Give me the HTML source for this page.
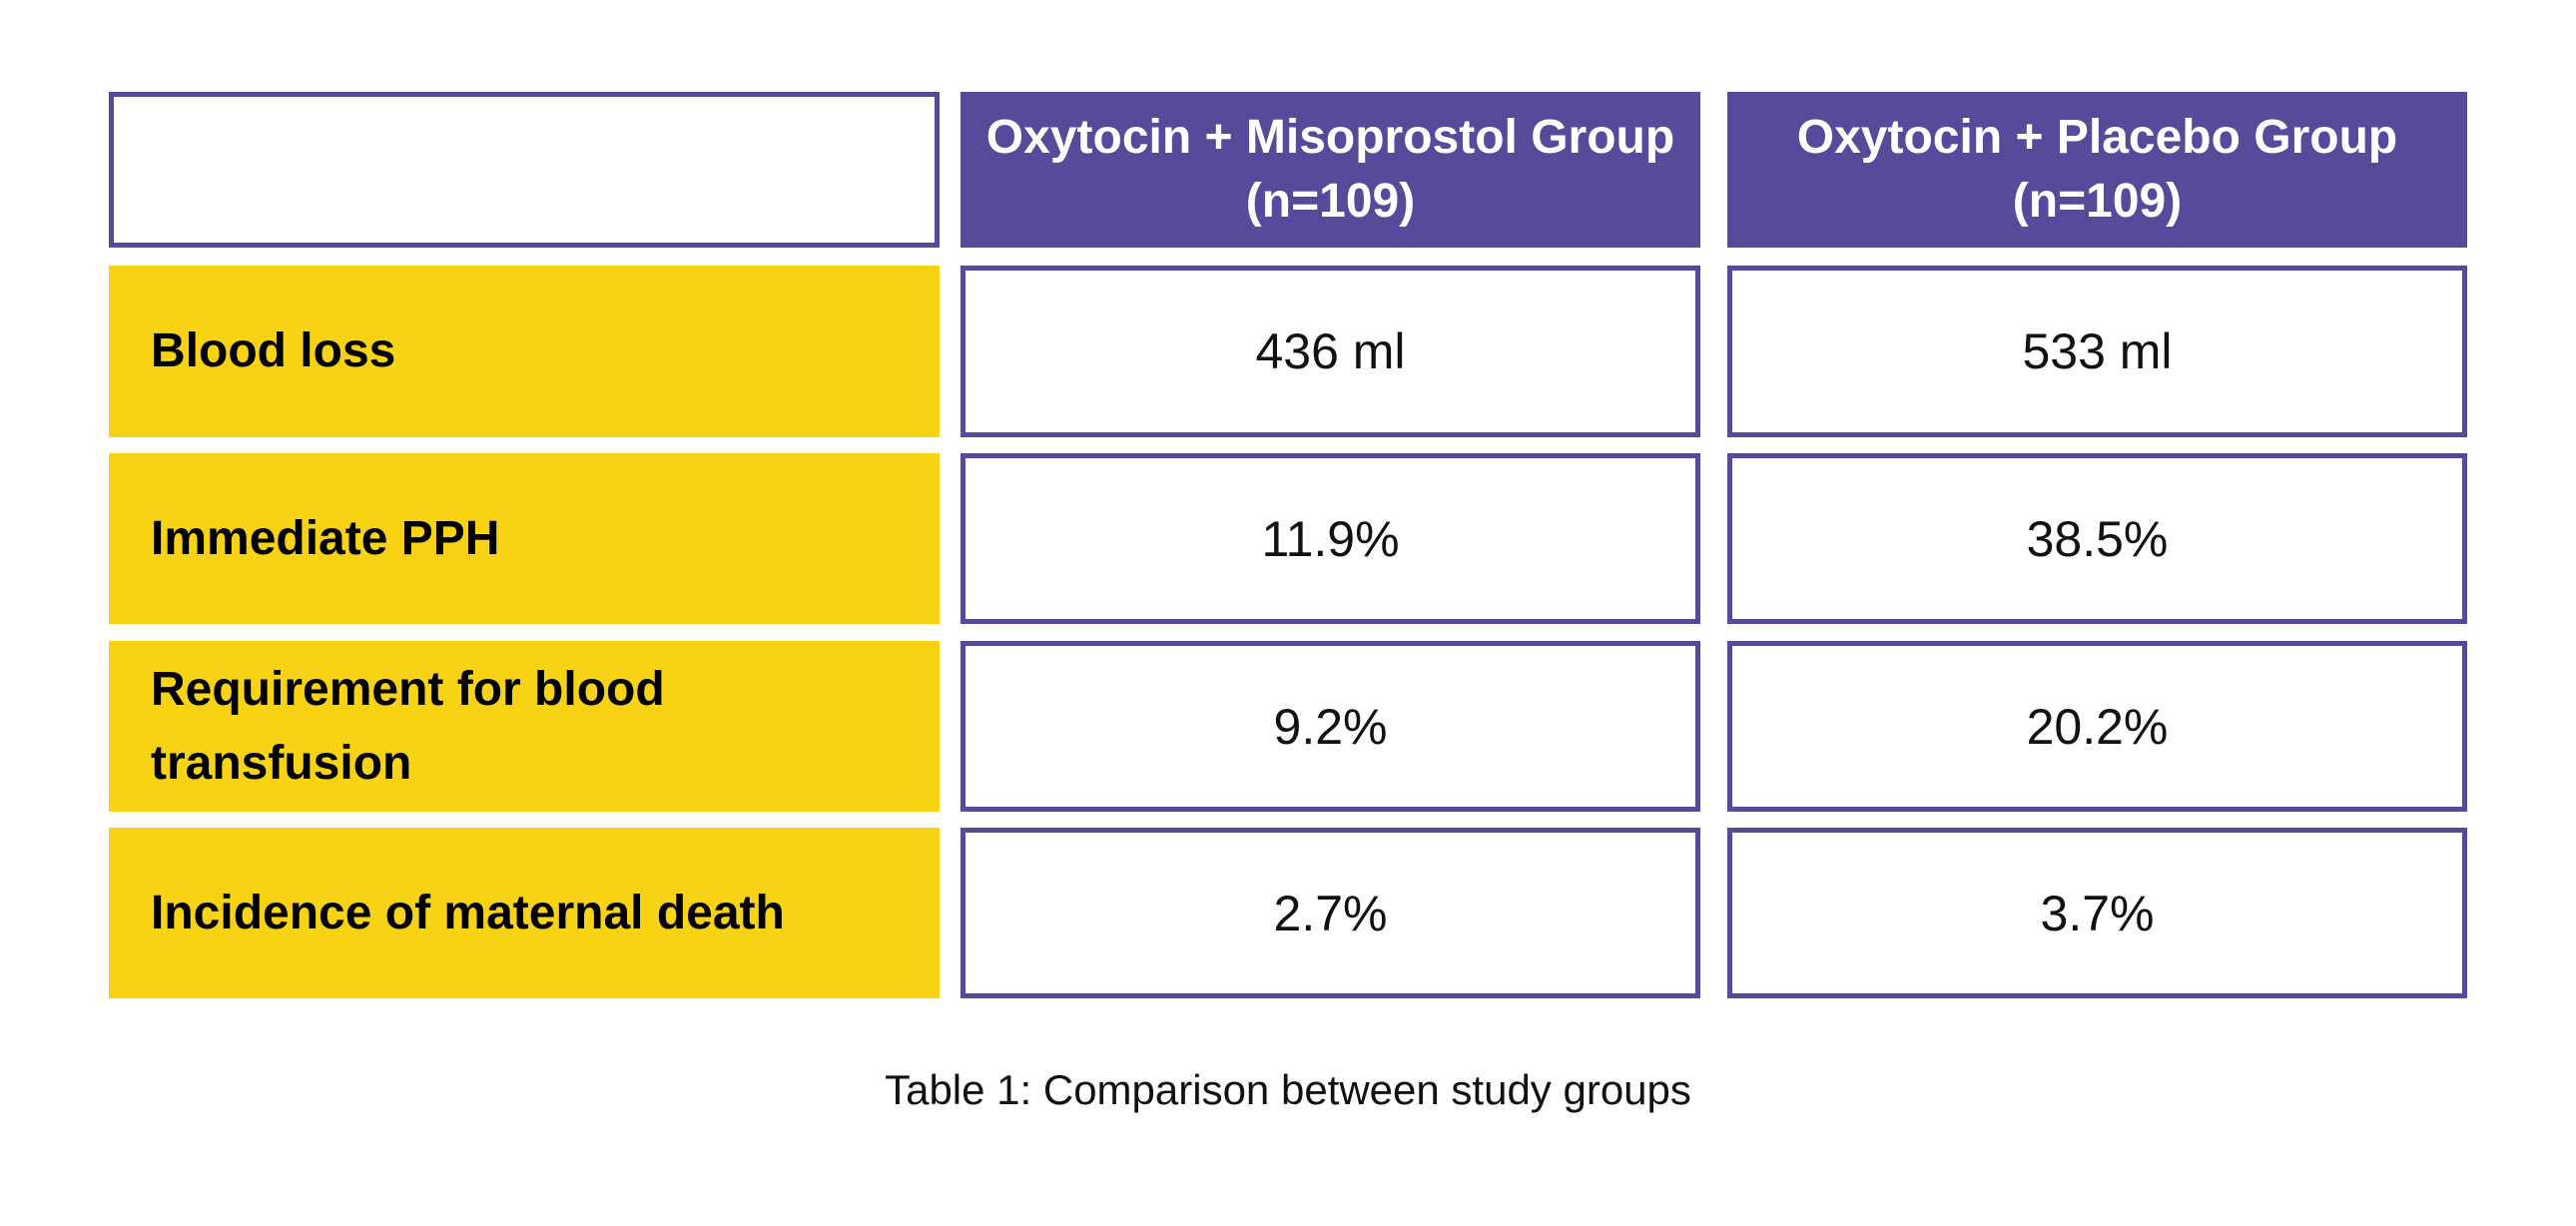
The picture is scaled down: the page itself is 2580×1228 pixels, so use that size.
<!DOCTYPE html>
<html><head><style>
body{margin:0;width:2580px;height:1228px;background:#fff;position:relative;font-family:"Liberation Sans",sans-serif;overflow:hidden}
.c{position:absolute;box-sizing:border-box;display:flex;align-items:center}
.o{border:5px solid #574a9a;background:#fff;justify-content:center;font-size:50px;color:#111}
.h{background:#574a9a;color:#fff;font-weight:bold;font-size:48px;justify-content:center;text-align:center;line-height:64px}
.y{background:#f8d313;font-weight:bold;font-size:48px;color:#000;padding-left:42px;line-height:74px}
</style></head><body>
<div class="c o" style="left:109px;top:92px;width:832px;height:156px"></div>
<div class="c h" style="left:962px;top:92px;width:741px;height:156px">Oxytocin + Misoprostol Group<br>(n=109)</div>
<div class="c h" style="left:1730px;top:92px;width:741px;height:156px">Oxytocin + Placebo Group<br>(n=109)</div>

<div class="c y" style="left:109px;top:266px;width:832px;height:172px">Blood loss</div>
<div class="c o" style="left:962px;top:266px;width:741px;height:172px">436 ml</div>
<div class="c o" style="left:1730px;top:266px;width:741px;height:172px">533 ml</div>

<div class="c y" style="left:109px;top:454px;width:832px;height:171px">Immediate PPH</div>
<div class="c o" style="left:962px;top:454px;width:741px;height:171px">11.9%</div>
<div class="c o" style="left:1730px;top:454px;width:741px;height:171px">38.5%</div>

<div class="c y" style="left:109px;top:642px;width:832px;height:171px">Requirement for blood<br>transfusion</div>
<div class="c o" style="left:962px;top:642px;width:741px;height:171px">9.2%</div>
<div class="c o" style="left:1730px;top:642px;width:741px;height:171px">20.2%</div>

<div class="c y" style="left:109px;top:829px;width:832px;height:171px">Incidence of maternal death</div>
<div class="c o" style="left:962px;top:829px;width:741px;height:171px">2.7%</div>
<div class="c o" style="left:1730px;top:829px;width:741px;height:171px">3.7%</div>

<div style="position:absolute;left:0;width:2580px;top:1068px;text-align:center;font-size:42px;color:#111">Table 1: Comparison between study groups</div>
</body></html>
